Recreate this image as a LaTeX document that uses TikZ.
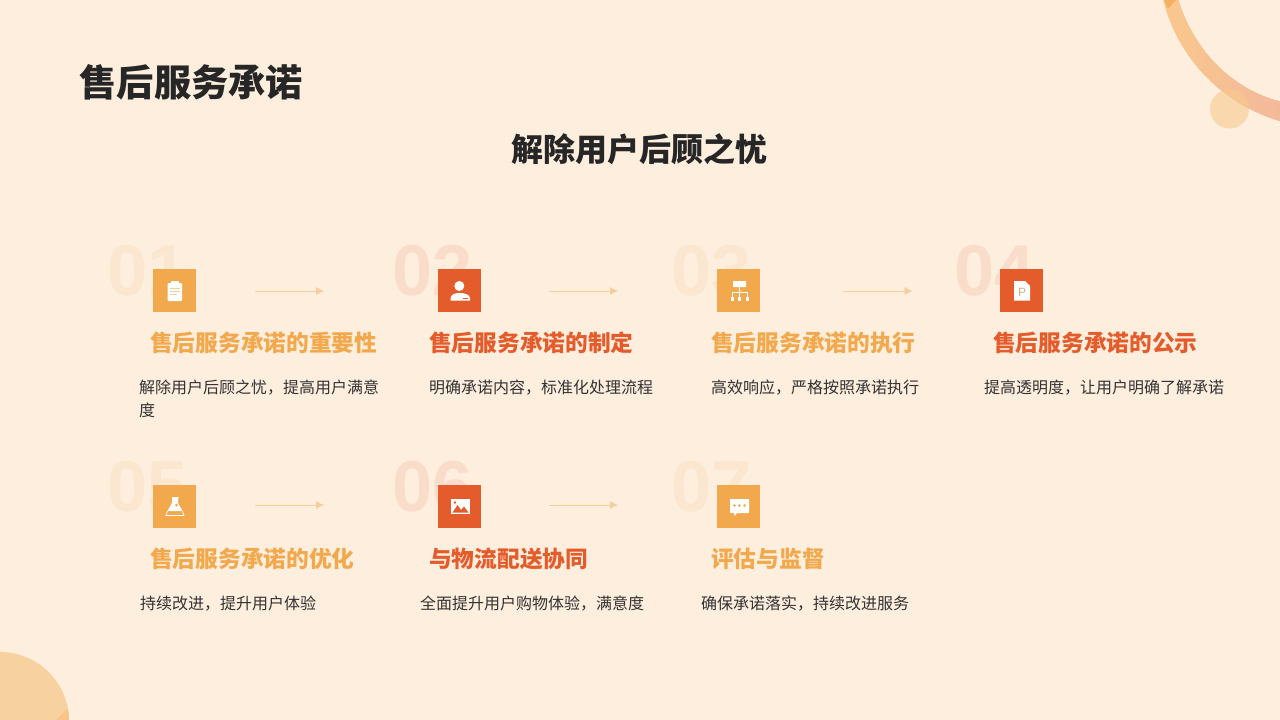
\documentclass[tikz,border=0pt]{standalone}
\usepackage{xcolor}
\usepackage{fontspec}
\setmainfont{Noto Sans CJK SC}
\newfontfamily\numfont{Liberation Sans}
\definecolor{pagebg}{HTML}{FDEEDD}
\definecolor{ora}{HTML}{F2A94E}
\definecolor{red}{HTML}{E55C2C}
\definecolor{numora}{HTML}{FBE6D0}
\definecolor{numred}{HTML}{F9DCC9}
\definecolor{tan}{HTML}{F4CE9C}
\definecolor{ink}{HTML}{333333}
\definecolor{ringa}{HTML}{F9C88C}
\definecolor{ringb}{HTML}{F3B89C}
\usetikzlibrary{arrows.meta}
\tikzset{
    num/.style={anchor=base west,inner sep=0pt,font=\numfont\fontsize{72}{72}\selectfont\bfseries},
    box/.style={minimum size=43pt,inner sep=0pt},
    head/.style={anchor=west,inner sep=0pt,font=\fontsize{22.7}{26}\selectfont\bfseries},
    txt/.style={anchor=north west,inner sep=0pt,align=left,text=ink,font=\fontsize{16}{23}\selectfont},
    flow/.style={draw=tan,line width=.8pt,-{Latex[length=8pt,width=8pt]}},
    icon/.style={fill=white,draw=none}
}
\newcommand{\ringpath}{(1163,-1) .. controls (1178,60) and (1225,105) .. (1281,121) -- (1281,102) .. controls (1232,90) and (1193,50) .. (1178,-1) -- cycle}
\begin{document}
\begin{tikzpicture}[x=1pt,y=-1pt]
    \useasboundingbox (0,0) rectangle (1280,720);
    \fill[pagebg] (0,0) rectangle (1280,720);

    \fill[ringa!45!pagebg!90!ora] (1229.5,109) circle (19.5);
    \begin{scope}
        \clip \ringpath;
        \foreach \p in {0,5,...,100}
            \fill[ringb!\p!ringa] (1160+\p*1.2,-2) rectangle (1282,125);
        \fill[ringa,opacity=.7] (1229.5,109) circle (19.5);
    \end{scope}
    \fill[ora!90!white] (1164,0) -- (1176,0) -- (1168,9) -- cycle;
    \fill[ora!42!pagebg] (0,721) circle (69);
    \begin{scope}
        \clip (0,721) circle (69);
        \fill[ora!60!pagebg] (70,706) -- (70,720) -- (56,720) -- cycle;
    \end{scope}

    \node[anchor=west,inner sep=0pt,text=black!85,font=\fontsize{37.2}{40}\selectfont\bfseries] (title) at (79.5,82) {售后服务承诺};
    \node[inner sep=0pt,text=black!85,font=\fontsize{32}{36}\selectfont\bfseries] (subtitle) at (639.5,149) {解除用户后顾之忧};

    \node[num,text=numora] (n1) at (107,295) {01};
    \node[num,text=numred] (n2) at (392,295) {02};
    \node[num,text=numora] (n3) at (671,295) {03};
    \node[num,text=numred] (n4) at (954,295) {04};
    \node[num,text=numora] (n5) at (107,511) {05};
    \node[num,text=numred] (n6) at (392,511) {06};
    \node[num,text=numora] (n7) at (671,511) {07};

    \node[box,fill=ora] (b1) at (174,290.2) {};
    \node[box,fill=red] (b2) at (459.7,290.2) {};
    \node[box,fill=ora] (b3) at (738.8,290.2) {};
    \node[box,fill=red] (b4) at (1021.5,290.2) {};
    \node[box,fill=ora] (b5) at (174,506.2) {};
    \node[box,fill=red] (b6) at (459.7,506.2) {};
    \node[box,fill=ora] (b7) at (738.8,506.2) {};

    \coordinate (a1) at (255,291);
    \coordinate (c1) at (324,291);
    \coordinate (a2) at (549,291);
    \coordinate (c2) at (618,291);
    \coordinate (a3) at (843,291);
    \coordinate (c3) at (912.5,291);
    \coordinate (a5) at (255,505);
    \coordinate (c5) at (324,505);
    \coordinate (a6) at (549,505);
    \coordinate (c6) at (618,505);
    \draw[flow] (a1) -- (c1);
    \draw[flow] (a2) -- (c2);
    \draw[flow] (a3) -- (c3);
    \draw[flow] (a5) -- (c5);
    \draw[flow] (a6) -- (c6);

    \node[head,text=ora] (h1) at (150,342.5) {售后服务承诺的重要性};
    \node[head,text=red] (h2) at (429,342.5) {售后服务承诺的制定};
    \node[head,text=ora] (h3) at (711,342.5) {售后服务承诺的执行};
    \node[head,text=red] (h4) at (993,342.5) {售后服务承诺的公示};
    \node[head,text=ora] (h5) at (150,558.5) {售后服务承诺的优化};
    \node[head,text=red] (h6) at (429,558.5) {与物流配送协同};
    \node[head,text=ora] (h7) at (711,558.5) {评估与监督};

    \node[txt] (t1) at (139,380) {解除用户后顾之忧，提高用户满意\\度};
    \node[txt] (t2) at (429,380) {明确承诺内容，标准化处理流程};
    \node[txt] (t3) at (711,380) {高效响应，严格按照承诺执行};
    \node[txt] (t4) at (984,380) {提高透明度，让用户明确了解承诺};
    \node[txt] (t5) at (140,596) {持续改进，提升用户体验};
    \node[txt] (t6) at (420,596) {全面提升用户购物体验，满意度};
    \node[txt] (t7) at (701,596) {确保承诺落实，持续改进服务};

    \fill[icon,rounded corners=1pt] (167.5,283) rectangle (182,301);
    \fill[icon] (171,281) rectangle (178.5,285);
    \draw[tan,line width=.5pt] (170,288) -- (179.5,288) (170,291) -- (179.5,291) (170,294) -- (177,294);

    \fill[icon] (459.3,286) circle (5);
    \fill[icon] (450.5,300.7) -- (450.5,298) .. controls (451,294.5) and (455,293) .. (459.5,293) .. controls (465,293) and (469.5,294.5) .. (470,298) -- (470,300.7) -- cycle;
    \draw[red,line width=.6pt] (463,298.5) -- (468,298.5);

    \fill[icon,rounded corners=.5pt] (733,281) rectangle (746,287);
    \draw[white,line width=.8pt] (739.5,287) -- (739.5,298) (732,298) -- (732,292.5) -- (747,292.5) -- (747,298);
    \fill[icon] (730.5,297) rectangle (733.5,301);
    \fill[icon] (738,297) rectangle (741,301);
    \fill[icon] (745.5,297) rectangle (748.5,301);

    \fill[icon] (1014,281) -- (1025,281) -- (1030,286) -- (1030,300.5) -- (1014,300.5) -- cycle;
    \node[inner sep=0pt,text=tan!80!ink,font=\numfont\fontsize{12}{12}\selectfont] (p4) at (1022,292.5) {P};

    \fill[icon] (172,497) -- (179,497) -- (178,498.5) -- (178,503) -- (182.5,511) -- (167.5,511) -- (172,503) -- (172,498.5) -- cycle;
    \draw[white,line width=.7pt] (167.5,511) -- (166,515.5) -- (184,515.5) -- (182.5,511);
    \fill[ora] (176.5,505) circle (1.5);

    \fill[icon] (450.7,499) rectangle (470,514);
    \fill[red] (452.5,512.5) -- (457.5,505) -- (461,510) -- (464,506.5) -- (468.5,512.5) -- cycle;
    \fill[red] (455,502.5) circle (1.3);

    \fill[icon,rounded corners=.7pt] (730,499) rectangle (749,513);
    \fill[icon] (734,512) -- (738,512) -- (734.5,516) -- cycle;
    \fill[ora] (734.5,505.5) circle (1.3);
    \fill[ora] (739.5,505.5) circle (1.3);
    \fill[ora] (744.5,505.5) circle (1.3);
\end{tikzpicture}
\end{document}
